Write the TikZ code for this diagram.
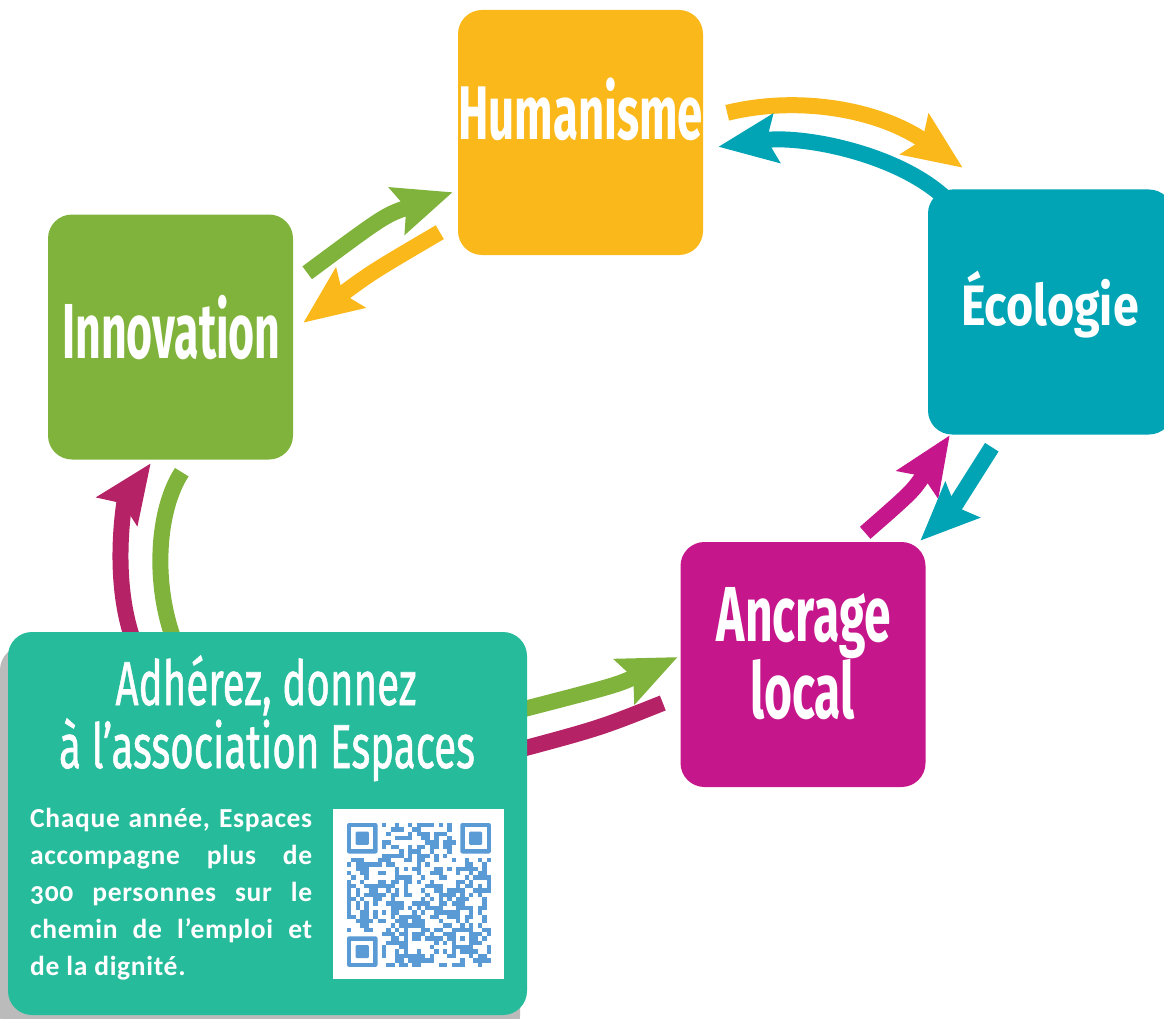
\documentclass[tikz,border=0pt]{standalone}
\usepackage{graphicx}
\usepackage{fontspec}
\usetikzlibrary{arrows.meta,calc}
\newfontfamily\ttlfont{Fira Sans}
\newfontfamily\adhfont[FakeBold=1.2]{Fira Sans}
\newfontfamily\bodyfont[Numbers=OldStyle,LetterSpace=2.5]{Carlito}
\newcommand{\ttl}[3]{{\ttlfont\bfseries\fontsize{#1}{#1}\selectfont\scalebox{#2}[1]{#3}}}
\newcommand{\adh}[3]{{\adhfont\fontsize{#1}{#1}\selectfont\scalebox{#2}[1]{#3}}}
\definecolor{cyellow}{HTML}{FBB81B}
\definecolor{cgreen}{HTML}{80B33B}
\definecolor{cteal}{HTML}{00A4B5}
\definecolor{cmag}{HTML}{C5168C}
\definecolor{ccrim}{HTML}{B52366}
\definecolor{cmint}{HTML}{26BB9B}
\definecolor{cqr}{HTML}{5B9BD5}
\definecolor{cshadow}{HTML}{BBBBBB}
\pgfdeclarelayer{bg}
\pgfsetlayers{bg,main}
\tikzset{
  card/.style={rounded corners=24pt, minimum width=245pt, minimum height=245pt, inner sep=0pt, draw=none},
  title/.style={text=white, inner sep=0pt, anchor=base},
  body/.style={text=white, inner sep=0pt, anchor=base west, font=\bodyfont\bfseries\fontsize{27.5}{30}\selectfont},
  flow/.style={line width=16pt, -{Stealth[length=58pt,width=48pt,inset=9pt]}},
  band/.style={line width=16pt}
}
\begin{document}
\begin{tikzpicture}[x=1pt,y=-1pt]
\useasboundingbox (0,0) rectangle (1164,1019);
\clip (0,0) rectangle (1164,1019);
% boxes
\node[card, fill=cyellow] (hum) at (580.5,132.5) {};
\node[card, fill=cgreen] (inno) at (170.5,337) {};
\node[card, fill=cteal] (eco) at (1050.5,312) {};
\node[card, fill=cmag] (anc) at (803,664.5) {};
\node[card, fill=cmint, minimum width=519pt, minimum height=383pt] (adh) at (267.5,823.5) {};
% titles
\node[title] (humt) at (580.5,139.5) {\ttl{76}{0.60}{Humanisme}};
\node[title] (innot) at (171.5,358.3) {\ttl{78}{0.572}{Innovation}};
\node[title] (ecot) at (1050,325) {\ttl{57}{0.817}{Écologie}};
\node[title] (anct1) at (804,641.7) {\ttl{78}{0.615}{Ancrage}};
\node[title] (anct2) at (802.5,718.3) {\ttl{78}{0.615}{local}};
\node[title] (adht1) at (266,705) {\adh{62}{0.65}{Adhérez, donnez}};
\node[title] (adht2) at (267,768) {\adh{62}{0.65}{à l’association Espaces}};
% body text
\node[body] (p1) at (30,827) {\makebox[282pt][s]{Chaque année, Espaces}};
\node[body] (p2) at (30,864) {\makebox[282pt][s]{accompagne plus de}};
\node[body] (p3) at (30,901) {\makebox[282pt][s]{300 personnes sur le}};
\node[body] (p4) at (30,938) {\makebox[282pt][s]{chemin de l’emploi et}};
\node[body] (p5) at (30,975) {de la dignité.};
% QR code
\node[fill=white, minimum width=171pt, minimum height=170pt, inner sep=0pt] (qr) at (418.5,894) {};
\pgfmathsetseed{7}
\foreach \i in {0,...,32}{
  \foreach \j in {0,...,32}{
    \pgfmathrandominteger{\r}{0}{99}
    \pgfmathtruncatemacro{\ok}{(\r<50)&&!((\i<8)&&(\j<8))&&!((\i>24)&&(\j<8))&&!((\i<8)&&(\j>24))&&!((\i>23)&&(\i<29)&&(\j>23)&&(\j<29))}
    \ifnum\ok=1 \fill[cqr] ({347+\i*4.36},{823+\j*4.36}) rectangle ++(4.36,4.36); \fi
  }
}
\foreach \fx/\fy in {0/0,26/0,0/26}{
  \fill[cqr, rounded corners=2pt] ({347+\fx*4.36},{823+\fy*4.36}) rectangle ++(30.52,30.52);
  \fill[white] ({347+(\fx+1)*4.36},{823+(\fy+1)*4.36}) rectangle ++(21.8,21.8);
  \fill[cqr, rounded corners=1pt] ({347+(\fx+2)*4.36},{823+(\fy+2)*4.36}) rectangle ++(13.08,13.08);
}
\fill[cqr] ({347+24*4.36},{823+24*4.36}) rectangle ++(21.8,21.8);
\fill[white] ({347+25*4.36},{823+25*4.36}) rectangle ++(13.08,13.08);
\fill[cqr] ({347+26*4.36},{823+26*4.36}) rectangle ++(4.36,4.36);
% connectors
\begin{pgfonlayer}{bg}
\fill[cshadow, rounded corners=24pt] (0,646) rectangle (520,1040);
% Innovation <-> Humanisme
\draw[flow, cgreen] ([shift={(14,58.5)}]inno.north east) .. controls (385,215) .. ([shift={(-5,-63)}]hum.south west);
\draw[flow, cyellow] ([shift={(-18,-23)}]hum.south west) .. controls (372,272) .. ([shift={(10,108.5)}]inno.north east);
% Humanisme <-> Ecologie
\draw[flow, cyellow] ([shift={(24,103)}]hum.north east) .. controls (800,95) and (880,110) .. ([shift={(35,-21.5)}]eco.north west);
\draw[flow, cteal] ([shift={(15,6.5)}]eco.north west) .. controls (893,152) and (800,135) .. ([shift={(15,137)}]hum.north east);
% Ecologie <-> Ancrage
\draw[flow, cmag] ([shift={(-60.5,-9)}]anc.north east) .. controls (913,491) .. ([shift={(22,0.5)}]eco.south west);
\draw[flow, cteal] ([shift={(64,12.5)}]eco.south west) .. controls (952,510) .. ([shift={(-5.5,-1)}]anc.north east);
% Adherez <-> Ancrage
\draw[flow, cgreen] ([shift={(-10,79)}]adh.north east) .. controls (617,685) .. ([shift={(-2.5,-7.5)}]anc.west);
\draw[band, ccrim] ([shift={(-17.5,38.5)}]anc.west) .. controls (600,728) .. ([shift={(-12,119)}]adh.north east);
% Adherez <-> Innovation
\draw[flow, ccrim] ([shift={(127,13)}]adh.north west) .. controls (110,580) and (125,500) .. ([shift={(103,3.5)}]inno.south west);
\draw[band, cgreen] ([shift={(134,12.5)}]inno.south west) .. controls (157,510) and (152,585) .. ([shift={(168,13)}]adh.north west);
\end{pgfonlayer}
\end{tikzpicture}
\end{document}
